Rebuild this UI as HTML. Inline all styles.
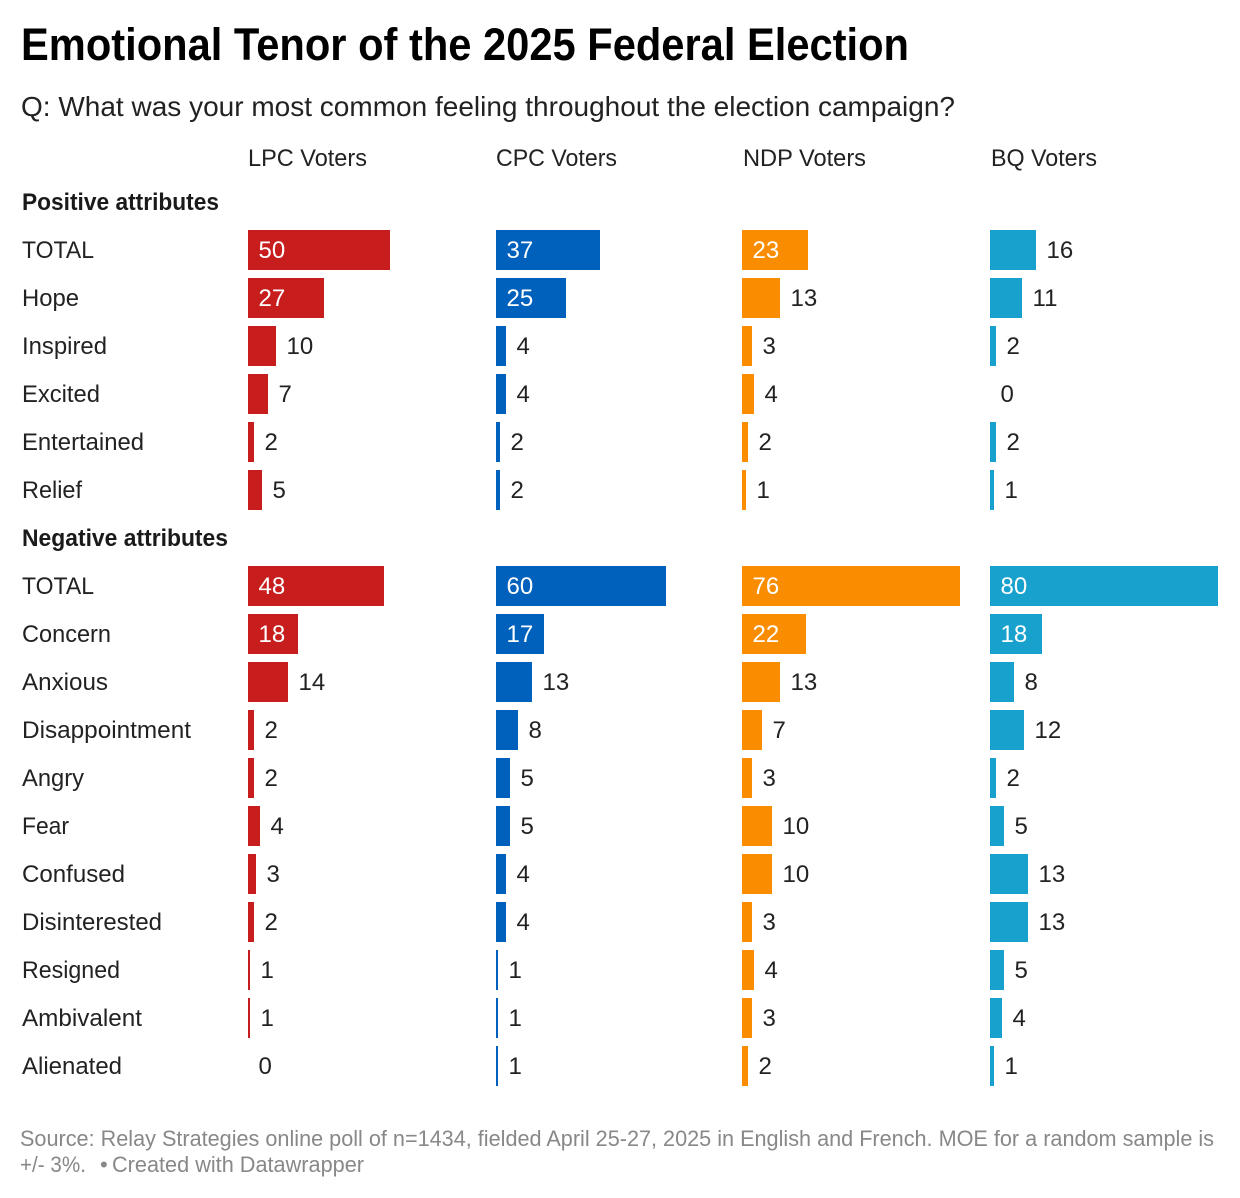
<!DOCTYPE html>
<html lang="en">
<head>
<meta charset="utf-8">
<title>Emotional Tenor of the 2025 Federal Election</title>
<style>
  html, body { margin: 0; padding: 0; background: #fff; }
  body { width: 1240px; height: 1198px; overflow: hidden; }
  svg { display: block; font-family: "Liberation Sans", Arial, sans-serif; }
  .cat, .val, .head { font-size: 24px; fill: #222; }
  .sec { font-size: 24px; font-weight: 700; fill: #1a1a1a; }
  .foot { font-size: 22px; fill: #888; }
</style>
</head>
<body>
<svg id="chart" width="1240" height="1198" viewBox="0 0 1240 1198" xmlns="http://www.w3.org/2000/svg">
  <rect x="0" y="0" width="1240" height="1198" fill="#fff"/>
  <text x="21" y="60" font-size="45" font-weight="700" fill="#000" textLength="888" lengthAdjust="spacingAndGlyphs">Emotional Tenor of the 2025 Federal Election</text>
  <text x="21" y="116" font-size="28" fill="#222" textLength="934" lengthAdjust="spacingAndGlyphs">Q: What was your most common feeling throughout the election campaign?</text>
  <text class="head" x="248" y="166" textLength="119" lengthAdjust="spacingAndGlyphs">LPC Voters</text>
  <text class="head" x="496" y="166" textLength="121" lengthAdjust="spacingAndGlyphs">CPC Voters</text>
  <text class="head" x="743" y="166" textLength="123" lengthAdjust="spacingAndGlyphs">NDP Voters</text>
  <text class="head" x="991" y="166" textLength="106" lengthAdjust="spacingAndGlyphs">BQ Voters</text>
  <text class="sec" x="22" y="210" textLength="197" lengthAdjust="spacingAndGlyphs">Positive attributes</text>
  <text class="sec" x="22" y="546" textLength="206" lengthAdjust="spacingAndGlyphs">Negative attributes</text>
  <g id="marks"></g>
  <text class="foot" x="20" y="1146" textLength="1194" lengthAdjust="spacingAndGlyphs">Source: Relay Strategies online poll of n=1434, fielded April 25-27, 2025 in English and French. MOE for a random sample is</text>
  <text class="foot" x="20" y="1172" textLength="66" lengthAdjust="spacingAndGlyphs">+/- 3%.</text>
  <text class="foot" x="100" y="1172">•</text>
  <text class="foot" x="112" y="1172" textLength="252" lengthAdjust="spacingAndGlyphs">Created with Datawrapper</text>
</svg>
<script>
// Categories
const positiveCategories = ["TOTAL", "Hope", "Inspired", "Excited", "Entertained", "Relief"];
const negativeCategories = ["TOTAL", "Concern", "Anxious", "Disappointment", "Angry", "Fear", "Confused", "Disinterested", "Resigned", "Ambivalent", "Alienated"];

// Series values (percent); labels print the rounded value
const lpcPositive = [49.8, 26.7, 9.8, 7.0, 2.1, 4.9];
const cpcPositive = [36.6, 24.6, 3.6, 3.6, 1.6, 1.6];
const ndpPositive = [23.2, 13.3, 3.4, 4.2, 2.1, 1.4];
const bqPositive = [16.1, 11.2, 2.1, 0, 2.1, 1.4];

const lpcNegative = [47.7, 17.6, 14.0, 2.1, 2.1, 4.2, 2.8, 2.1, 0.7, 0.7, 0];
const cpcNegative = [59.6, 16.8, 12.6, 7.7, 4.9, 4.9, 3.6, 3.6, 0.7, 0.7, 0.7];
const ndpNegative = [76.4, 22.4, 13.3, 7.0, 3.4, 10.4, 10.4, 3.4, 4.2, 3.4, 2.1];
const bqNegative = [80.0, 18.2, 8.4, 11.9, 2.1, 4.9, 13.3, 13.3, 4.9, 4.2, 1.4];

// Layout (not data)
const NS = "http://www.w3.org/2000/svg";
const marks = document.getElementById("marks");
const UNIT = 2.85;
const ROW_PITCH = 48;
const BAR_H = 40;
const INSIDE_MIN = 48;
const LABEL_GAP = 10.5;
const columns = [
  { key: "lpc", left: 248, color: "#c71e1d", pos: lpcPositive, neg: lpcNegative },
  { key: "cpc", left: 496, color: "#0061bd", pos: cpcPositive, neg: cpcNegative },
  { key: "ndp", left: 742, color: "#fa8c00", pos: ndpPositive, neg: ndpNegative },
  { key: "bq", left: 990, color: "#18a1cd", pos: bqPositive, neg: bqNegative }
];
const labelFit = { "TOTAL": 72, "Hope": 57, "Inspired": 85, "Excited": 78, "Entertained": 122, "Relief": 60, "Concern": 89, "Anxious": 86, "Disappointment": 169, "Angry": 62, "Fear": 47, "Confused": 103, "Disinterested": 140, "Resigned": 98, "Ambivalent": 120, "Alienated": 100 };

function xScale(v) { return Math.round(v * UNIT / 2) * 2; }
function yScale(top, i) { return top + i * ROW_PITCH; }
function slug(s) { return s.toLowerCase().replace(/[^a-z0-9]+/g, "-"); }

function drawSection(sectionName, top, categories, seriesKey) {
  categories.forEach(function (cat, i) {
    const y = yScale(top, i);
    const label = document.createElementNS(NS, "text");
    label.setAttribute("class", "cat");
    label.setAttribute("x", 22);
    label.setAttribute("y", y + 28);
    if (labelFit[cat]) {
      label.setAttribute("textLength", labelFit[cat]);
      label.setAttribute("lengthAdjust", "spacingAndGlyphs");
    }
    label.textContent = cat;
    
    
    marks.appendChild(label);

    columns.forEach(function (col) {
      const v = col[seriesKey][i];
      const w = xScale(v);
      const bar = document.createElementNS(NS, "rect");
      bar.setAttribute("x", col.left);
      bar.setAttribute("y", y);
      bar.setAttribute("width", w);
      bar.setAttribute("height", BAR_H);
      bar.setAttribute("fill", col.color);
      
      
      marks.appendChild(bar);

      const inside = w >= INSIDE_MIN;
      const val = document.createElementNS(NS, "text");
      val.setAttribute("class", "val");
      val.setAttribute("x", inside ? col.left + LABEL_GAP : col.left + w + LABEL_GAP);
      val.setAttribute("y", y + 28);
      if (inside) { val.style.fill = "#fff"; }
      val.textContent = String(Math.round(v));
      
      
      marks.appendChild(val);
    });
  });
}

drawSection("positive", 230, positiveCategories, "pos");
drawSection("negative", 566, negativeCategories, "neg");
</script>
</body>
</html>
